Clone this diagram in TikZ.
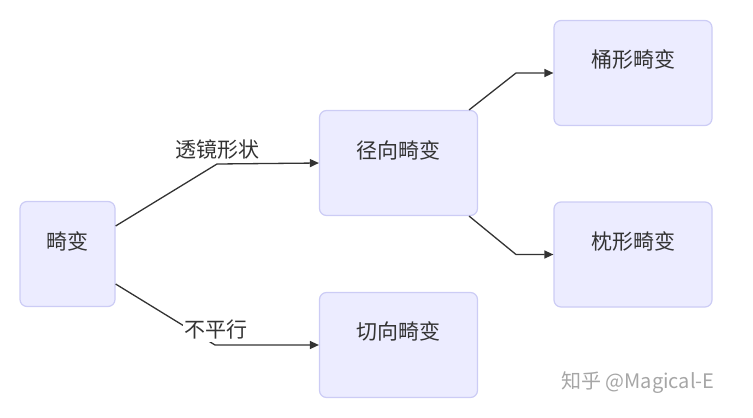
\documentclass[tikz,border=0pt]{standalone}
\usepackage{fontspec}
\setmainfont{Noto Sans CJK SC}
\usetikzlibrary{arrows.meta,calc}
\definecolor{boxfill}{HTML}{ECECFF}
\definecolor{boxdraw}{HTML}{CCCCF5}
\definecolor{edge}{HTML}{333333}
\definecolor{txt}{HTML}{333333}
\begin{document}
\begin{tikzpicture}[x=1pt,y=-1pt,
  box/.style={draw=boxdraw, fill=boxfill, line width=1.2pt, rounded corners=7pt, minimum width=158pt, minimum height=105pt, inner sep=0pt},
  smallbox/.style={box, minimum width=95pt},
  lbl/.style={text=txt, font=\fontsize{21}{23}\selectfont\addfontfeatures{FakeBold=0}, inner sep=1pt},
  conn/.style={draw=edge, line width=1.3pt, -{Triangle[length=9pt,width=8pt]}}]
\useasboundingbox (0,0) rectangle (753,418);
\node[smallbox] (n1) at (67.5,254) {};
\node[box] (n2) at (398.5,163) {};
\node[box] (n3) at (398.5,345) {};
\node[box] (n4) at (633,73) {};
\node[box] (n5) at (633,254.5) {};
\node[lbl] (t1) at (67.5,241) {畸变};
\node[lbl] (t2) at (398.5,150) {径向畸变};
\node[lbl] (t3) at (398.5,331) {切向畸变};
\node[lbl] (t4) at (633,59) {桶形畸变};
\node[lbl] (t5) at (633,241) {枕形畸变};
\coordinate (c1) at (217,164);
\coordinate (c2) at (215,345);
\coordinate (c3) at (516,73);
\coordinate (c4) at (516,254.5);
\draw[conn] ([yshift=28pt]n1.east) -- (c1) -- (n2.west);
\draw[conn] ([yshift=-30pt]n1.east) -- (c2) -- (n3.west);
\draw[conn] ([xshift=-9pt]n2.north east) -- (c3) -- (n4.west);
\draw[conn] ([xshift=-9pt]n2.south east) -- (c4) -- (n5.west);
\node[lbl] (e1) at (217,150) {透镜形状};
\node[lbl, fill=white, inner sep=2pt] (e2) at (216,330) {不平行};
\node[text=black!35, font=\fontsize{20}{22}\selectfont, anchor=west, inner sep=0pt] (wm) at (561,383) {知乎 @Magical-E};
\end{tikzpicture}
\end{document}
